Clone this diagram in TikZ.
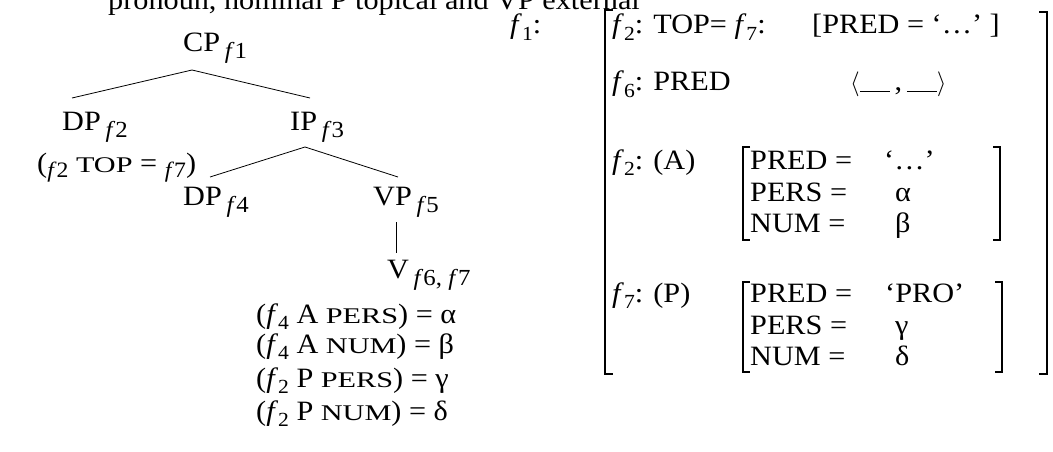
\documentclass[tikz,border=0pt]{standalone}
\usepackage{fontspec}
\setmainfont{Liberation Serif}[FakeStretch=1.08]
\usepackage{graphicx}
\newcommand\fsb[1]{\,\raisebox{-0.25em}{\fontsize{23}{23}\selectfont\textit{f}#1}}
\newcommand\fv[1]{\textit{f}\raisebox{-0.22em}{\fontsize{20}{20}\selectfont #1}}
\newcommand\smc[1]{\scalebox{1}[0.8]{#1}}
\newcommand\blank{\rule[-1pt]{30pt}{0.9pt}}
\begin{document}
\begin{tikzpicture}[x=1pt,y=-1pt,
  txt/.style={anchor=base west,inner sep=0pt,font=\fontsize{28}{32}\selectfont},
  br/.style={line width=1.8pt},
  ibr/.style={line width=1.3pt},
  ln/.style={line width=0.8pt}]
\useasboundingbox (0,0) rectangle (1053,452);
\clip (0,0) rectangle (1053,452);
% clipped caption line
\node[txt] (cap) at (108,10) {pronoun, nominal P topical and VP external};
% tree
\node[txt] (cp) at (183,52) {CP\fsb{1}};
\node[txt] (dp2) at (62,130) {DP\fsb{2}};
\node[txt] (ip) at (290,130) {IP\fsb{3}};
\node[txt] (topeq) at (37,172) {(\raisebox{-0.2em}{\fontsize{22}{22}\selectfont\textit{f}2} \smc{TOP} = \raisebox{-0.2em}{\fontsize{22}{22}\selectfont\textit{f}7})};
\node[txt] (dp4) at (183,205) {DP\fsb{4}};
\node[txt] (vp) at (373,205) {VP\fsb{5}};
\node[txt] (v) at (387,278) {V\,\raisebox{-0.25em}{\fontsize{23}{23}\selectfont\textit{f}6, \textit{f}7}};
\coordinate (cpb) at (192,70);
\coordinate (dp2t) at (72,98);
\coordinate (ipt) at (310,98);
\coordinate (ipb) at (305,147);
\coordinate (dp4t) at (210,177);
\coordinate (vpt) at (398,177);
\coordinate (vpb) at (396,222);
\coordinate (vt) at (396,253);
\draw[ln] (cpb) -- (dp2t);
\draw[ln] (cpb) -- (ipt);
\draw[ln] (ipb) -- (dp4t);
\draw[ln] (ipb) -- (vpt);
\draw[ln] (vpb) -- (vt);
% equations
\node[txt] (e1) at (256,323) {(\fv{4} A \smc{PERS}) = α};
\node[txt] (e2) at (256,353) {(\fv{4} A \smc{NUM}) = β};
\node[txt] (e3) at (256,387) {(\fv{2} P \smc{PERS}) = γ};
\node[txt] (e4) at (256,420) {(\fv{2} P \smc{NUM}) = δ};
% f-structure
\node[txt] (f1) at (510,34) {\fv{1}:};
\draw[br] (613,10) -- (605,10) -- (605,374) -- (613,374);
\draw[br] (1039,12) -- (1047,12) -- (1047,374) -- (1039,374);
\node[txt] (r1) at (612,34) {\fv{2}: TOP= \fv{7}:};
\node[txt] (r1b) at (812,34) {[PRED = ‘…’ ]};
\node[txt] (r2) at (612,91) {\fv{6}: PRED};
\node[txt] (r2b) at (850,91) {$\langle$\blank\,,\,\blank$\rangle$};
\node[txt] (r3) at (612,169) {\fv{2}: (A)};
\draw[ibr] (750,147) -- (743,147) -- (743,240) -- (750,240);
\draw[ibr] (993,147) -- (1000,147) -- (1000,240) -- (993,240);
\node[txt] (a1) at (750,169) {PRED =};
\node[txt] (a1v) at (884,169) {‘…’};
\node[txt] (a2) at (750,201) {PERS =};
\node[txt] (a2v) at (895,201) {α};
\node[txt] (a3) at (750,232) {NUM =};
\node[txt] (a3v) at (895,232) {β};
\node[txt] (r4) at (612,302) {\fv{7}: (P)};
\draw[ibr] (750,282) -- (743,282) -- (743,372) -- (750,372);
\draw[ibr] (995,282) -- (1002,282) -- (1002,372) -- (995,372);
\node[txt] (p1) at (750,302) {PRED =};
\node[txt] (p1v) at (885,302) {‘PRO’};
\node[txt] (p2) at (750,334) {PERS =};
\node[txt] (p2v) at (895,334) {γ};
\node[txt] (p3) at (750,365) {NUM =};
\node[txt] (p3v) at (895,365) {δ};
\end{tikzpicture}
\end{document}
